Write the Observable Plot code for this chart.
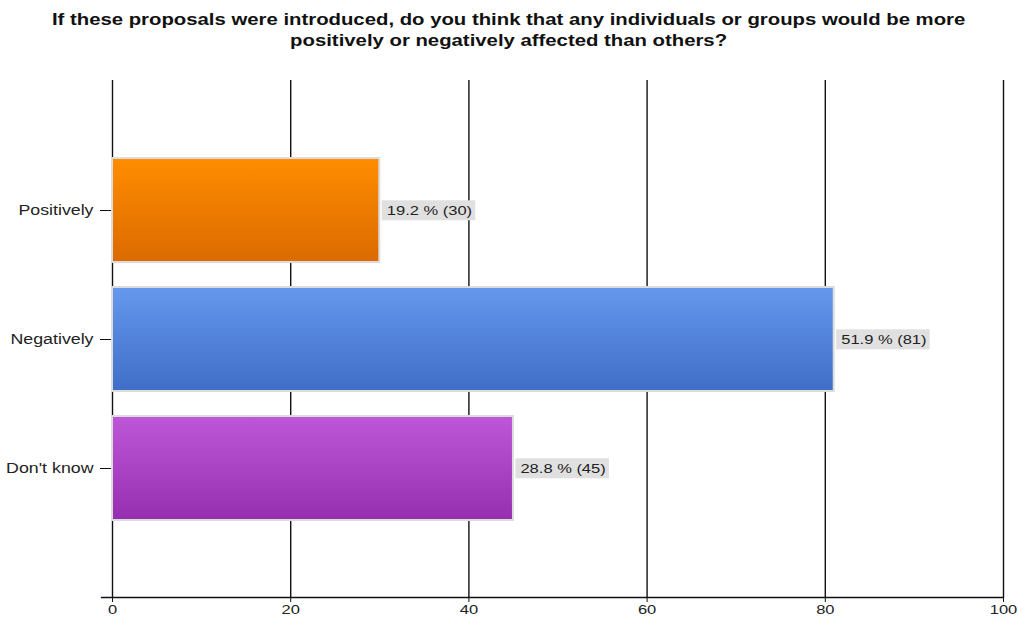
<!DOCTYPE html>
<html>
<head>
<meta charset="utf-8">
<script src="https://cdn.jsdelivr.net/npm/d3@7"></script>
<script src="https://cdn.jsdelivr.net/npm/@observablehq/plot@0.6"></script>
<style>
  html, body { margin: 0; padding: 0; background: #fff; }
  body { width: 1018px; height: 619px; overflow: hidden; font-family: "Liberation Sans", Arial, sans-serif; }
  #title { height: 60px; box-sizing: border-box; padding-top: 9px; text-align: center; font-weight: bold; font-size: 16px; line-height: 21px; color: #111; }
  #title span { display: inline-block; transform: scaleX(1.27); transform-origin: 50% 50%; }
</style>
</head>
<body>
<div id="title"><span>If these proposals were introduced, do you think that any individuals or groups would be more<br>positively or negatively affected than others?</span></div>
<div id="chart"></div>
<script>
const categories = ["Positively", "Negatively", "Don't know"];
const percents = [19.2, 51.9, 28.8];
const counts = [30, 81, 45];
const xTicks = [0, 20, 40, 60, 80, 100];

const data = categories.map((c, i) => ({ category: c, count: counts[i], percent: percents[i] }));

const gradients = [
  ["g-pos", "#ff8d00", "#db6a00"],
  ["g-neg", "#6698ee", "#3f6ec6"],
  ["g-dk", "#be56d8", "#952fb0"]
];
const stretch = 1.27;

const chart = Plot.plot({
  width: 1018,
  height: 559,
  marginTop: 20,
  marginBottom: 22,
  marginLeft: 112,
  marginRight: 15,
  style: { fontFamily: "'Liberation Sans', Arial, sans-serif", color: "#222", background: "#fff" },
  x: { domain: [0, 100], ticks: xTicks, label: null },
  y: { domain: categories, paddingInner: 0.194, paddingOuter: 0.6, label: null },
  color: { domain: categories, range: gradients.map(g => `url(#${g[0]})`) },
  marks: [
    Plot.ruleX(xTicks, { stroke: "#111", strokeWidth: 1.4 }),
    Plot.frame({ anchor: "bottom", insetLeft: -11, stroke: "#111", strokeWidth: 1.4 }),
    Plot.axisX({ ticks: xTicks, tickSize: 5, tickPadding: 2, fontSize: 13, label: null, stroke: "#111" }),
    Plot.axisY({ tickSize: 12, tickPadding: 7, fontSize: 14, label: null, stroke: "#111" }),
    Plot.barX(data, { y: "category", x: "count", fill: "category", stroke: "#dcdcdc", strokeWidth: 2 }),
    Plot.text(data, {
      y: "category", x: "count",
      text: d => `${d.percent.toFixed(1)} % (${d.count})`,
      textAnchor: "start", dx: 7, fontSize: 13, fill: "#222"
    })
  ]
});

document.getElementById("chart").append(chart);

const ns = "http://www.w3.org/2000/svg";
// gradient definitions
const defs = document.createElementNS(ns, "defs");
for (const [id, top, bottom] of gradients) {
  const lg = document.createElementNS(ns, "linearGradient");
  lg.setAttribute("id", id);
  lg.setAttribute("x1", "0"); lg.setAttribute("y1", "0");
  lg.setAttribute("x2", "0"); lg.setAttribute("y2", "1");
  const s1 = document.createElementNS(ns, "stop");
  s1.setAttribute("offset", "0"); s1.setAttribute("stop-color", top);
  const s2 = document.createElementNS(ns, "stop");
  s2.setAttribute("offset", "1"); s2.setAttribute("stop-color", bottom);
  lg.append(s1, s2);
  defs.append(lg);
}
chart.prepend(defs);

// horizontal stretch of all text (reference is horizontally stretched)
for (const t of chart.querySelectorAll("text")) {
  const tr = t.getAttribute("transform") || "";
  t.setAttribute("transform", (tr + ` scale(${stretch},1)`).trim());
}

// grey boxes behind value labels
for (const t of Array.from(chart.querySelectorAll("text")).filter(t => t.textContent.includes("%"))) {
  const b = t.getBBox();
  const r = document.createElementNS(ns, "rect");
  r.setAttribute("x", b.x - 4);
  r.setAttribute("y", b.y - 3);
  r.setAttribute("width", b.width + 6.5);
  r.setAttribute("height", b.height + 6);
  r.setAttribute("fill", "#e0e0e0");
  r.setAttribute("transform", t.getAttribute("transform"));
  t.parentNode.insertBefore(r, t);
}
</script>
</body>
</html>
